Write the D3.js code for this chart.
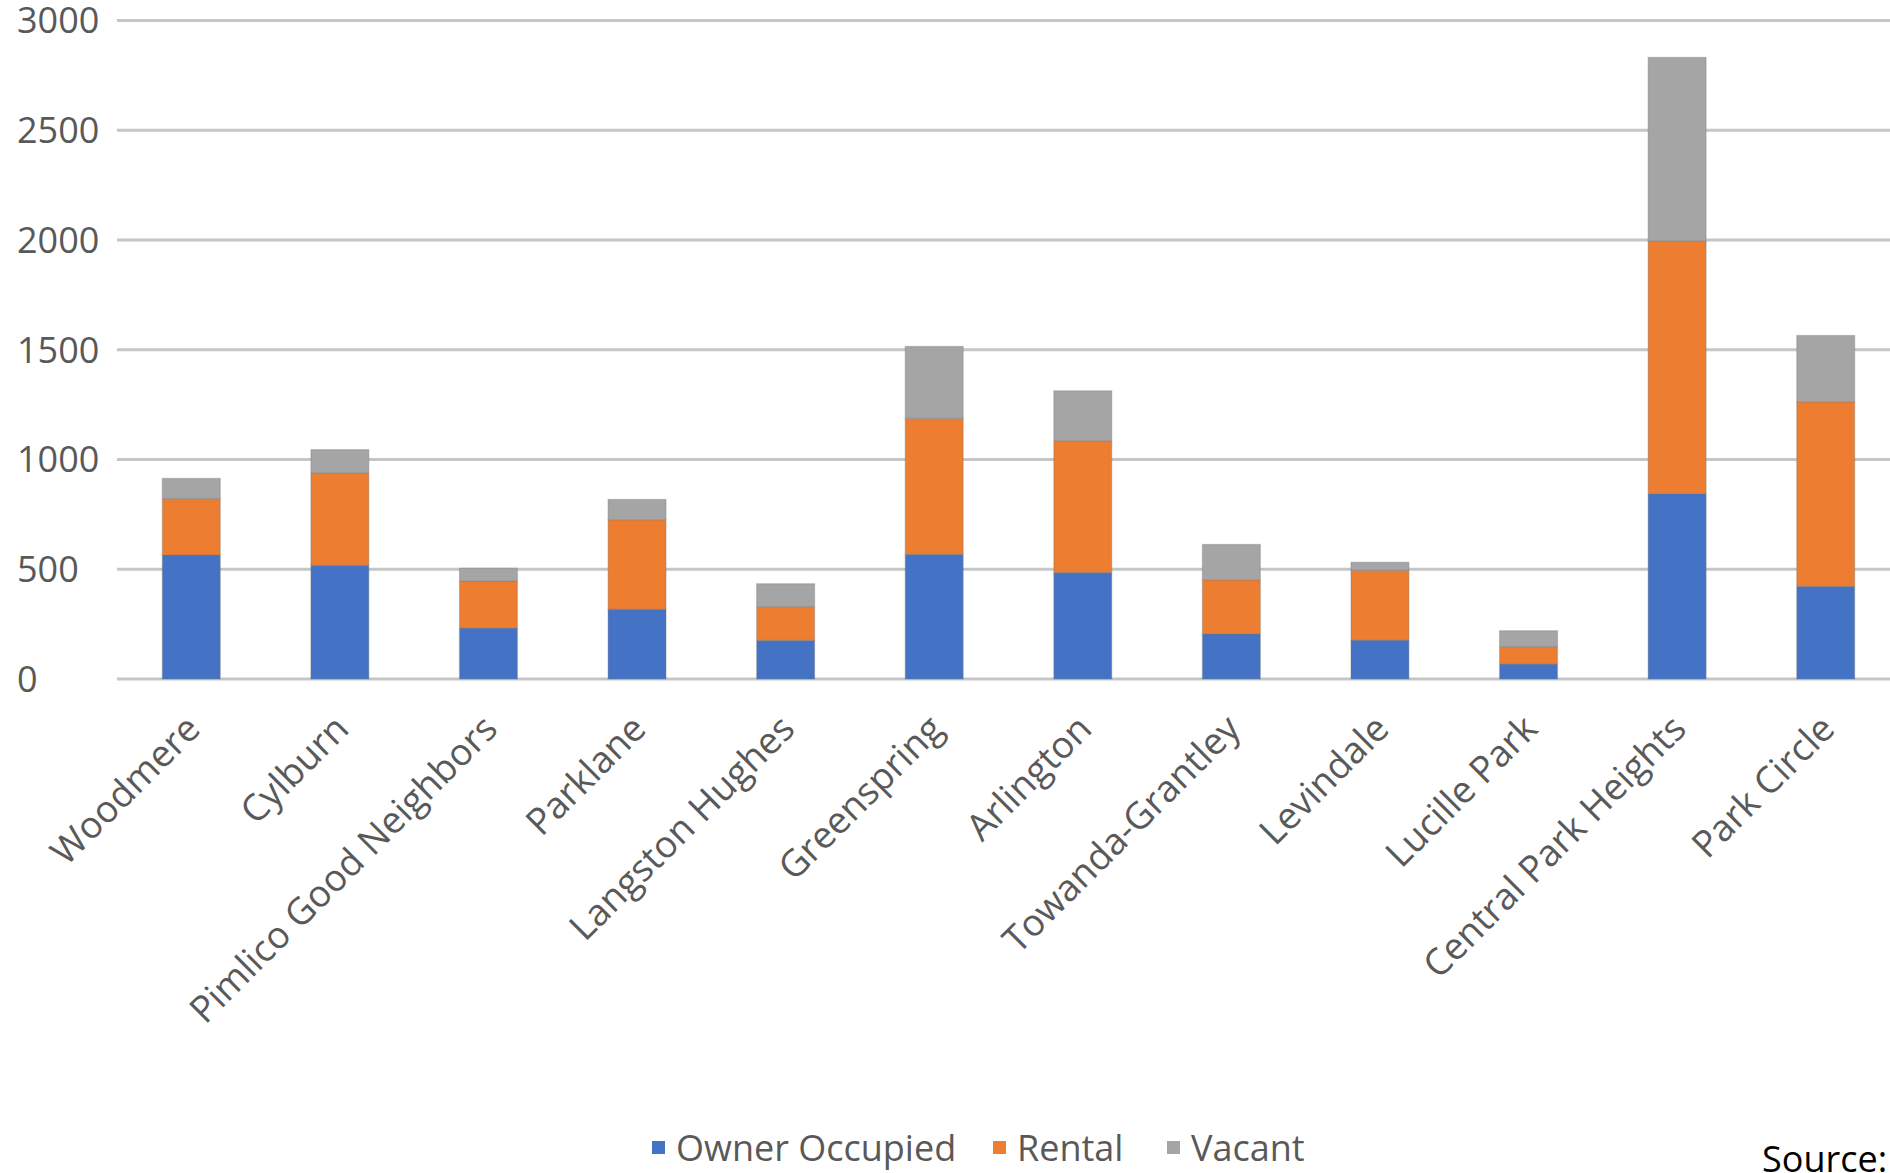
<!DOCTYPE html>
<html>
<head>
<meta charset="utf-8">
<script src="https://cdn.jsdelivr.net/npm/d3@7"></script>
<style>
  html, body { margin: 0; padding: 0; background: #ffffff; }
  svg { display: block; }
  text { font-family: "Open Sans", "Noto Sans", sans-serif; }
</style>
</head>
<body>
<svg id="chart" width="1890" height="1173"></svg>
<script>
// Housing units by neighborhood, split by tenure
const neighborhoods = ["Woodmere", "Cylburn", "Pimlico Good Neighbors", "Parklane", "Langston Hughes",
  "Greenspring", "Arlington", "Towanda-Grantley", "Levindale", "Lucille Park", "Central Park Heights", "Park Circle"];
const ownerOccupied = [565, 518, 232, 318, 176, 568, 485, 205, 177, 68, 845, 422];
const rental        = [257, 420, 215, 408, 154, 619, 601, 247, 318, 80, 1150, 841];
const vacant        = [92, 107, 58, 92, 104, 328, 227, 161, 37, 72, 837, 302];
const seriesNames   = ["Owner Occupied", "Rental", "Vacant"];
const seriesColors  = ["#4472C4", "#ED7D31", "#A5A5A5"];
const yTicks        = [0, 500, 1000, 1500, 2000, 2500, 3000];

const rows = neighborhoods.map((n, i) => ({
  name: n,
  "Owner Occupied": ownerOccupied[i],
  "Rental": rental[i],
  "Vacant": vacant[i]
}));

const svg = d3.select("#chart");
const plotLeft = 117, plotRight = 1900, plotTop = 20.5, plotBottom = 679;

const x = d3.scaleBand()
  .domain(neighborhoods)
  .range([plotLeft, plotRight])
  .paddingInner(0.61)
  .paddingOuter(0.305);

const y = d3.scaleLinear().domain([0, 3000]).range([plotBottom, plotTop]);
const color = d3.scaleOrdinal().domain(seriesNames).range(seriesColors);

// horizontal gridlines
svg.append("g")
  .selectAll("line")
  .data(yTicks)
  .join("line")
  .attr("x1", plotLeft)
  .attr("x2", 1890)
  .attr("y1", d => y(d))
  .attr("y2", d => y(d))
  .attr("stroke", "#c6c6c6")
  .attr("stroke-width", 2.8);

// y tick labels, left aligned
svg.append("g")
  .selectAll("text")
  .data(yTicks)
  .join("text")
  .attr("x", 17)
  .attr("y", d => y(d))
  .attr("dy", "0.36em")
  .attr("fill", "#595959")
  .attr("font-size", 36)
  .text(d => d);

// stacked bars
const stacked = d3.stack().keys(seriesNames)(rows);
svg.append("g")
  .selectAll("g")
  .data(stacked)
  .join("g")
  .attr("fill", d => color(d.key))
  .selectAll("rect")
  .data(d => d)
  .join("rect")
  .attr("x", d => x(d.data.name))
  .attr("width", x.bandwidth())
  .attr("y", d => y(d[1]))
  .attr("height", d => y(d[0]) - y(d[1]))
  .attr("stroke", "rgba(120,120,120,0.35)")
  .attr("stroke-width", 1.2);

// rotated category labels
svg.append("g")
  .selectAll("text")
  .data(neighborhoods)
  .join("text")
  .attr("transform", d => `translate(${x(d) + x.bandwidth() / 2 + 11},${plotBottom + 52}) rotate(-45)`)
  .attr("text-anchor", "end")
  .attr("fill", "#595959")
  .attr("font-size", 37)
  .text(d => d);

// legend
const legendItems = [
  { key: "Owner Occupied", x: 652 },
  { key: "Rental", x: 993 },
  { key: "Vacant", x: 1167 }
];
const legend = svg.append("g");
legend.selectAll("rect")
  .data(legendItems)
  .join("rect")
  .attr("x", d => d.x)
  .attr("y", 1141)
  .attr("width", 13)
  .attr("height", 13)
  .attr("fill", d => color(d.key));
legend.selectAll("text")
  .data(legendItems)
  .join("text")
  .attr("x", d => d.x + 24)
  .attr("y", 1161)
  .attr("fill", "#595959")
  .attr("font-size", 36)
  .text(d => d.key);

// source note
svg.append("text")
  .attr("x", 1762)
  .attr("y", 1172)
  .attr("fill", "#000000")
  .attr("font-size", 36)
  .text("Source:");
</script>
</body>
</html>
